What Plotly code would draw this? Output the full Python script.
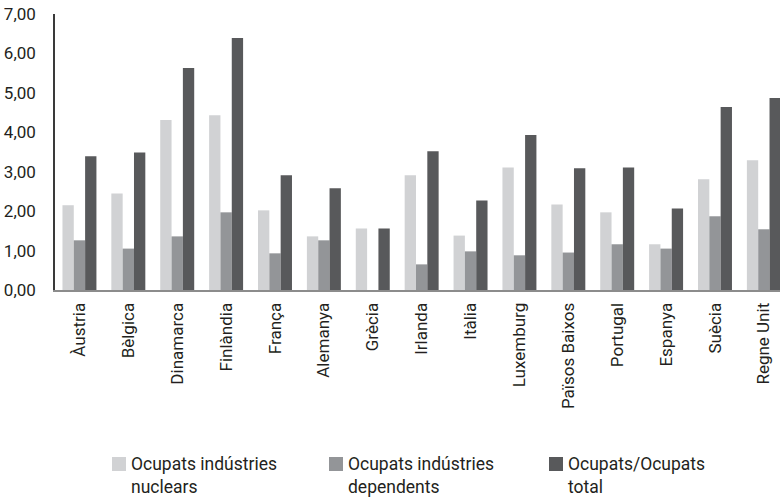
import plotly.graph_objects as go

# Categories (countries) and the three series
countries = ["Àustria", "Bèlgica", "Dinamarca", "Finlàndia", "França", "Alemanya",
             "Grècia", "Irlanda", "Itàlia", "Luxemburg", "Països Baixos", "Portugal",
             "Espanya", "Suècia", "Regne Unit"]
nuclears = [2.15, 2.45, 4.31, 4.43, 2.02, 1.36, 1.56, 2.91, 1.38, 3.11, 2.17, 1.97, 1.16, 2.81, 3.29]
dependents = [1.26, 1.05, 1.36, 1.97, 0.93, 1.26, 0.0, 0.65, 0.98, 0.88, 0.95, 1.16, 1.05, 1.87, 1.54]
total = [3.39, 3.49, 5.63, 6.39, 2.91, 2.58, 1.56, 3.52, 2.27, 3.93, 3.09, 3.11, 2.07, 4.64, 4.87]

legend_labels = ["Ocupats indústries<br>nuclears",
                 "Ocupats indústries<br>dependents",
                 "Ocupats/Ocupats<br>total"]
colors = ["#d1d2d4", "#939598", "#58595b"]

FONT = "Roboto"
TEXT = "#231f20"
W, H = 780, 497
ML, MR, MT, MB = 55, 0, 14, 207

fig = go.Figure()
for label, vals, col in zip(legend_labels, [nuclears, dependents, total], colors):
    fig.add_trace(go.Bar(x=countries, y=vals, name=label.replace("<br>", " "),
                         marker_color=col, marker_line_width=0, showlegend=False))


# pixel -> paper coordinate helpers for the hand-placed legend
def px_x(px):
    return (px - ML) / (W - ML - MR)


def px_y(py):
    return (H - MB - py) / (H - MT - MB)


# Legend: swatch + two-line label per series, laid out in a single row
shapes, annotations = [], []
item_left = [112, 329, 549]
for left, label, col in zip(item_left, legend_labels, colors):
    shapes.append(dict(type="rect", xref="paper", yref="paper",
                       x0=px_x(left), x1=px_x(left + 14), y0=px_y(471), y1=px_y(457),
                       fillcolor=col, line_width=0))
    annotations.append(dict(xref="paper", yref="paper", x=px_x(left + 17), y=px_y(475),
                            xanchor="left", yanchor="middle", align="left",
                            showarrow=False, text=label,
                            font=dict(family=FONT, size=17.5, color=TEXT)))

fig.update_layout(
    width=W, height=H,
    margin=dict(l=ML, r=MR, t=MT, b=MB, pad=0),
    paper_bgcolor="white", plot_bgcolor="white",
    barmode="group", bargap=0.305, bargroupgap=0,
    separators=",.",
    font=dict(family=FONT, size=17, color=TEXT),
    showlegend=False,
    shapes=shapes, annotations=annotations,
)
fig.update_xaxes(range=[-0.5, 14.33], tickangle=-90, ticks="", showgrid=False,
                 showline=True, linecolor="#8c8c8c", linewidth=2,
                 ticklabelstandoff=4, tickfont=dict(size=17))
fig.update_yaxes(range=[0, 7], dtick=1, tickformat=".2f", ticks="", showgrid=False,
                 zeroline=False, showline=True, linecolor="#3a3a3a", linewidth=1.5,
                 ticklabelstandoff=14, tickfont=dict(size=17))

fig.write_html("out.html")
